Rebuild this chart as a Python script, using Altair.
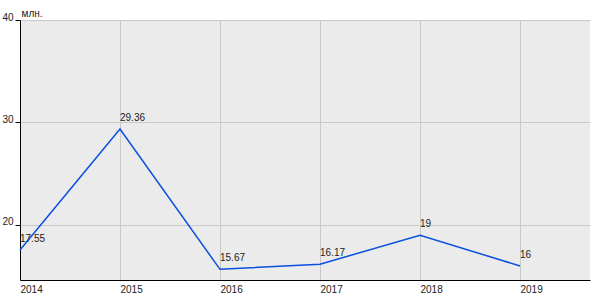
import altair as alt
import pandas as pd

years = [2014, 2015, 2016, 2017, 2018, 2019]
values = [17.55, 29.36, 15.67, 16.17, 19, 16]
labels = ["17.55", "29.36", "15.67", "16.17", "19", "16"]

df = pd.DataFrame({"year": years, "value": values, "label": labels})

FONT = "Liberation Sans"

x = alt.X(
    "year:Q",
    scale=alt.Scale(domain=[2014, 2019.7], nice=False, zero=False),
    axis=alt.Axis(
        values=years, format="d", title=None, labelAlign="left",
        labelBaseline="top", labelPadding=4, ticks=False,
        domainColor="black", labelColor="#222", labelFontSize=10,
        labelFont=FONT, gridColor="#c8c8c8", labelFlush=False,
    ),
)
y = alt.Y(
    "value:Q",
    scale=alt.Scale(domain=[14.63, 40], nice=False, zero=False),
    axis=alt.Axis(
        values=[20, 30, 40], title="млн.", titleAngle=0, titleX=1, titleY=-4,
        titleAlign="left", titleBaseline="alphabetic", titleFontWeight="normal",
        titleFontSize=10, titleFont=FONT, titleColor="#222",
        labelBaseline="alphabetic", labelPadding=2, tickSize=5, tickColor="black",
        domainColor="black", labelColor="#222", labelFontSize=10, labelFont=FONT,
        gridColor="#c8c8c8",
    ),
)

line = alt.Chart(df).mark_line(color="#0a4fe0", strokeWidth=1.5).encode(x=x, y=y)
text = alt.Chart(df).mark_text(
    align="left", baseline="bottom", dy=-6, fontSize=10, font=FONT, color="#222"
).encode(x="year:Q", y="value:Q", text="label:N")

chart = (line + text).properties(
    width=570, height=260,
    autosize=alt.AutoSizeParams(type="none"),
    padding={"left": 20, "top": 20, "right": 10, "bottom": 20},
).configure_view(fill="#ebebeb", stroke=None)

chart.save("out.html", embed_options={"renderer": "svg", "actions": False})
